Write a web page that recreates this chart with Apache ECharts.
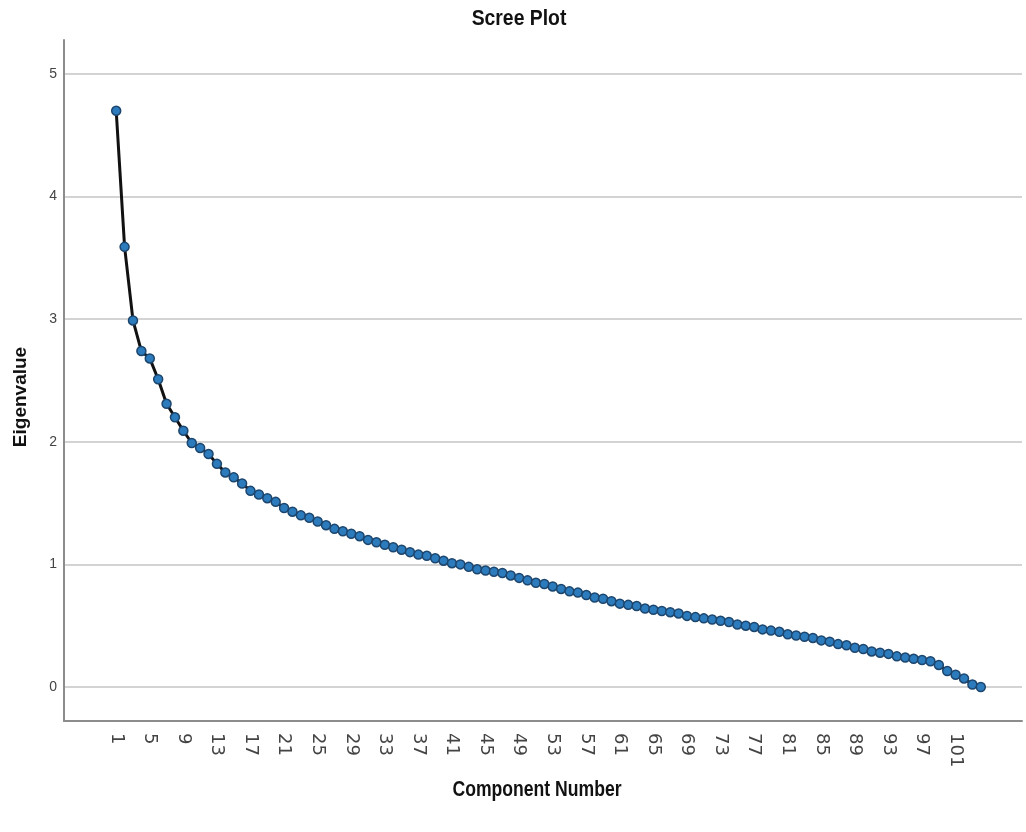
<!DOCTYPE html>
<html>
<head>
<meta charset="utf-8">
<title>Scree Plot</title>
<script src="https://cdn.jsdelivr.net/npm/echarts@6/dist/echarts.min.js"></script>
<style>
  html, body { margin: 0; padding: 0; background: #fff; }
  #chart { width: 1026px; height: 832px; }
</style>
</head>
<body>
<div id="chart"></div>
<script>
// chart object
var myChart = echarts.init(document.getElementById('chart'));

// eigenvalues, component 1..104
var eigenvalues = [
    4.70, 3.59, 2.99, 2.74, 2.68, 2.51, 2.31, 2.20, 2.09, 1.99,
    1.95, 1.90, 1.82, 1.75, 1.71, 1.66, 1.60, 1.57, 1.54, 1.51,
    1.46, 1.43, 1.40, 1.38, 1.35, 1.32, 1.29, 1.27, 1.25, 1.23,
    1.20, 1.18, 1.16, 1.14, 1.12, 1.10, 1.08, 1.07, 1.05, 1.03,
    1.01, 1.00, 0.98, 0.96, 0.95, 0.94, 0.93, 0.91, 0.89, 0.87,
    0.85, 0.84, 0.82, 0.80, 0.78, 0.77, 0.75, 0.73, 0.72, 0.70,
    0.68, 0.67, 0.66, 0.64, 0.63, 0.62, 0.61, 0.60, 0.58, 0.57,
    0.56, 0.55, 0.54, 0.53, 0.51, 0.50, 0.49, 0.47, 0.46, 0.45,
    0.43, 0.42, 0.41, 0.40, 0.38, 0.37, 0.35, 0.34, 0.32, 0.31,
    0.29, 0.28, 0.27, 0.25, 0.24, 0.23, 0.22, 0.21, 0.18, 0.13,
    0.10, 0.07, 0.02, 0.00
];

// component numbers (category labels)
var components = [];
for (var i = 1; i <= eigenvalues.length; i++) {
    components.push(String(i));
}

// y tick range
var yMin = 0;
var yMax = 5;

var axisGray = '#8c8c8c';
var labelGray = '#444';
var narrowBold = 'bold 22px "Liberation Sans", sans-serif';

var option = {
    backgroundColor: '#fff',
    animation: false,
    grid: [
        // gridlines + y labels
        { left: 64, right: 4, top: 74, bottom: 145 },
        // outer frame (axis lines)
        { left: 64, right: 4, top: 40, bottom: 111 },
        // data area
        { left: 112, right: 41, top: 74, bottom: 145 }
    ],
    xAxis: [
        { gridIndex: 0, type: 'value', show: false },
        {
            gridIndex: 1, type: 'value', min: 0, max: 1,
            axisLine: { show: true, lineStyle: { color: axisGray, width: 2 } },
            axisTick: { show: false }, axisLabel: { show: false },
            splitLine: { show: false }
        },
        {
            gridIndex: 2, type: 'category', data: components, boundaryGap: true,
            offset: 34,
            axisLine: { show: false }, axisTick: { show: false },
            axisLabel: {
                interval: 3, rotate: -90, margin: 12,
                fontFamily: 'DejaVu Sans', fontSize: 18, color: labelGray
            }
        }
    ],
    yAxis: [
        {
            gridIndex: 0, type: 'value', min: yMin, max: yMax, interval: 1,
            axisLine: { show: false }, axisTick: { show: false },
            axisLabel: { margin: 7, fontFamily: 'Liberation Sans', fontSize: 14, color: labelGray },
            splitLine: { show: true, lineStyle: { color: '#c4c4c4', width: 1.5 } }
        },
        {
            gridIndex: 1, type: 'value', min: 0, max: 1,
            axisLine: { show: true, lineStyle: { color: axisGray, width: 2 } },
            axisTick: { show: false }, axisLabel: { show: false },
            splitLine: { show: false }
        },
        { gridIndex: 2, type: 'value', min: yMin, max: yMax, show: false }
    ],
    graphic: [
        {
            type: 'text', x: 519, y: 19, scaleX: 0.88,
            style: {
                text: 'Scree Plot', fill: '#111', font: narrowBold,
                align: 'center', verticalAlign: 'middle'
            }
        },
        {
            type: 'text', x: 537, y: 790, scaleX: 0.8,
            style: {
                text: 'Component Number', fill: '#111', font: narrowBold,
                align: 'center', verticalAlign: 'middle'
            }
        },
        {
            type: 'text', x: 21, y: 397, rotation: Math.PI / 2,
            style: {
                text: 'Eigenvalue', fill: '#111',
                font: 'bold 19px "Liberation Sans", sans-serif',
                align: 'center', verticalAlign: 'middle'
            }
        }
    ],
    series: [{
        type: 'line',
        xAxisIndex: 2,
        yAxisIndex: 2,
        data: eigenvalues,
        clip: false,
        showAllSymbol: true,
        symbol: 'circle',
        symbolSize: 9,
        lineStyle: { color: '#111', width: 3 },
        itemStyle: { color: '#2b7bbd', borderColor: '#1d466e', borderWidth: 1.5 }
    }]
};

myChart.setOption(option);
</script>
</body>
</html>
